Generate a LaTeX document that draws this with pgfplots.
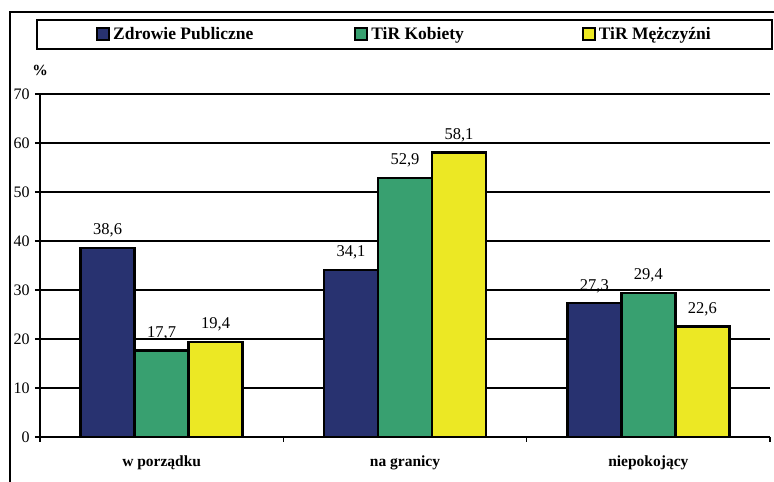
\documentclass[border=0pt]{standalone}
\usepackage{pgfplots}
\pgfplotsset{compat=1.18}
\usepackage{fontspec}
\setmainfont{Liberation Serif}
\definecolor{cblue}{HTML}{283270}
\definecolor{cgreen}{HTML}{38A070}
\definecolor{cyellow}{HTML}{ECE824}
\begin{document}
\fontsize{15.5bp}{18bp}\selectfont
\begin{tikzpicture}
\useasboundingbox (0,0) rectangle (774bp,482bp);
\draw[line width=2bp] (10bp,-5bp) -- (10bp,470bp) -- (780bp,470bp);
\draw[line width=1.5bp] (37bp,433bp) rectangle (772bp,462bp);
\node[font=\bfseries] at (40bp,412bp) {\%};
\begin{axis}[
  at={(40bp,45bp)}, anchor=south west, scale only axis,
  width=730bp, height=343bp,
  ybar=0pt, bar width=54bp,
  xmin=-0.5, xmax=2.5, ymin=0, ymax=70, enlargelimits=false,
  xtick={-0.5,0.5,1.5,2.5},
  xticklabels={w porządku,na granicy,niepokojący,{}},
  xticklabel style={xshift=121.67bp, font=\bfseries, yshift=-8bp},
  ytick={0,10,...,70},
  yticklabel style={font=\fontsize{16bp}{18bp}\selectfont},
  ymajorgrids, grid style={black, line width=1.2bp},
  axis lines*=left, axis line style={-, line width=1.5bp},
  tick align=outside, major tick length=5bp, tick style={black, line width=1.5bp},
  xtick pos=bottom, ytick pos=left,
  /pgf/number format/assume math mode=true,
  nodes near coords={\pgfmathprintnumber[use comma,fixed,fixed zerofill,precision=1,assume math mode=true]{\pgfplotspointmeta}},
  every node near coord/.append style={yshift=4bp, font=\fontsize{16.5bp}{18bp}\selectfont, black},
  every axis plot post/.append style={legend image code/.code={\draw[##1, line width=2bp] (0bp,-6bp) rectangle (12bp,6bp);}},
  legend columns=3,
  legend style={at={(0.5,1.1735)}, anchor=center, draw=none, fill=none,
    font=\bfseries\fontsize{17.5bp}{20bp}\selectfont,
    /tikz/column 2/.append style={column sep=98bp},
    /tikz/column 4/.append style={column sep=115bp},
    nodes={inner xsep=3bp}},
]
\addplot[fill=cblue, draw=black, line width=2.5bp] coordinates {(0,38.6) (1,34.1) (2,27.3)};
\addplot[fill=cgreen, draw=black, line width=2.5bp] coordinates {(0,17.7) (1,52.9) (2,29.4)};
\addplot[fill=cyellow, draw=black, line width=2.5bp] coordinates {(0,19.4) (1,58.1) (2,22.6)};
\legend{Zdrowie Publiczne, TiR Kobiety, TiR Mężczyźni}
\end{axis}
\end{tikzpicture}
\end{document}
